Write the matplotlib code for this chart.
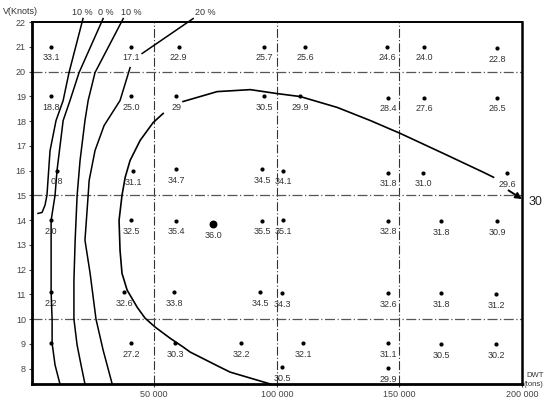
import matplotlib
matplotlib.use('Agg')
import matplotlib.pyplot as plt
import numpy as np

plt.rcParams['font.family'] = ['Liberation Sans', 'DejaVu Sans']

# grid points: DWT (tons), speed (knots), value label
pt_x = [8000, 40500, 60000, 95000, 111500, 145000, 160000, 190000,
        8000, 40500, 59000, 95000, 109600, 145500, 160000, 190000,
        10400, 41400, 59000, 94000, 102700, 145500, 159800, 194000,
        8000, 40600, 59000, 94000, 102700, 145500, 167000, 190000,
        8000, 37800, 58200, 93300, 102300, 145500, 167000, 189600,
        8000, 40600, 58600, 85500, 110800, 145500, 167000, 189600,
        102300, 145500]
pt_y = [21.0, 21.0, 21.0, 21.0, 21.0, 21.0, 21.0, 20.95,
        19.0, 19.0, 19.0, 19.0, 19.0, 18.95, 18.95, 18.95,
        16.0, 15.97, 16.05, 16.05, 16.0, 15.92, 15.92, 15.9,
        14.0, 14.0, 13.98, 13.98, 14.0, 13.98, 13.95, 13.95,
        11.09, 11.09, 11.09, 11.09, 11.05, 11.05, 11.05, 11.02,
        9.03, 9.03, 9.03, 9.03, 9.03, 9.03, 9.0, 9.0,
        8.06, 8.03]
pt_lbl = ['33.1', '17.1', '22.9', '25.7', '25.6', '24.6', '24.0', '22.8',
          '18.8', '25.0', '29', '30.5', '29.9', '28.4', '27.6', '26.5',
          '0.8', '31.1', '34.7', '34.5', '34.1', '31.8', '31.0', '29.6',
          '2.0', '32.5', '35.4', '35.5', '35.1', '32.8', '31.8', '30.9',
          '2.2', '32.6', '33.8', '34.5', '34.3', '32.6', '31.8', '31.2',
          '', '27.2', '30.3', '32.2', '32.1', '31.1', '30.5', '30.2',
          '30.5', '29.9']

# optimum point
opt_x, opt_y, opt_lbl = 74100, 13.83, '36.0'

# iso-lines (-10 %, 0 %, 10 %, 20 %)
c10n_x = [21000, 15300, 12900, 10000, 7550, 6300, 5500, 4300, 2650]
c10n_y = [22.14, 19.96, 18.83, 18.02, 16.8, 15.0, 14.6, 14.31, 14.27]
c0_x = [29200, 19400, 15700, 12900, 10400, 9600, 8000, 8000, 8000, 8400, 8400, 9600, 11600]
c0_y = [22.14, 19.96, 18.83, 18.02, 16.0, 15.0, 13.99, 12.38, 11.09, 10.0, 9.03, 8.15, 7.38]
c10_x = [37400, 25900, 23100, 21800, 19800, 18600, 17800, 17300, 17300, 18600, 20200, 21800]
c10_y = [22.14, 19.96, 18.83, 18.02, 16.41, 15.0, 13.19, 11.57, 10.0, 8.95, 8.15, 7.38]
c20_x = [65900, 45100, np.nan, 40200, 36100, 29600, 25900, 23500, 23100, 21800, 23900, 26300, 29200, 32900]
c20_y = [22.14, 20.73, np.nan, 20.16, 18.83, 17.82, 16.81, 15.6, 15.0, 13.19, 11.85, 10.0, 8.75, 7.38]

# 30 % curve
c30_x = [97400, 81000, 76900, 64700, 61900, 56500, 50400, 46300, 43100, 39000, 36900,
         36100, 35700, 36900, 38200, 40200, 44300, 49600, 53700, np.nan,
         61800, 75700, 89200, 100200, 109600, 124700, 138200, 150400, 168000,
         184300, 188400, np.nan, 194500]
c30_y = [7.38, 7.86, 8.06, 8.67, 8.87, 9.23, 9.68, 10.04, 10.48, 11.17, 11.85,
         12.78, 13.99, 15.0, 15.73, 16.41, 17.22, 17.94, 18.31, np.nan,
         18.79, 19.19, 19.27, 19.11, 18.99, 18.55, 18.02, 17.5, 16.69,
         15.93, 15.73, np.nan, 15.2]
c30_end = (200000, 14.85)

pct_lbl = ['10 %', '0 %', '10 %', '20 %']
pct_x = [20600, 30400, 40600, 70800]

x_ticks = [50000, 100000, 150000, 200000]
x_tick_lbl = ['50 000', '100 000', '150 000', '200 000']
y_ticks = list(range(8, 23))

fig = plt.figure(figsize=(5.45, 4.09), dpi=100)
ax = fig.add_axes([0.0578, 0.0611, 0.900, 0.885])
ax.set_xlim(0, 200000)
ax.set_ylim(7.38, 22)

# dash-dot reference grid
for gx in [50000, 100000, 150000]:
    ax.axvline(gx, color='#333333', lw=0.8, ls=(0, (8, 2, 1, 2)), zorder=1)
for gy in [20, 15, 10]:
    ax.axhline(gy, color='#555555', lw=0.9, ls=(0, (8, 2, 1, 2)), zorder=1)

kw = dict(color='black', lw=1.1, clip_on=False, zorder=3)
ax.plot(c10n_x, c10n_y, **kw)
ax.plot(c0_x, c0_y, **kw)
ax.plot(c10_x, c10_y, **kw)
ax.plot(c20_x, c20_y, **kw)
ax.plot(c30_x, c30_y, color='black', lw=1.2, zorder=3)
ax.annotate('', xy=c30_end, xytext=(c30_x[-1], c30_y[-1]),
            arrowprops=dict(arrowstyle='-|>', color='black', lw=1.4,
                            mutation_scale=9, shrinkA=0, shrinkB=0),
            annotation_clip=False, zorder=4)
ax.text(c30_end[0] + 2500, c30_end[1] - 0.1, '30', fontsize=9,
        ha='left', va='center', color='#222222', clip_on=False)

ax.scatter(pt_x, pt_y, s=4, color='black', zorder=4)
for x, y, t in zip(pt_x, pt_y, pt_lbl):
    if t:
        ax.annotate(t, (x, y), xytext=(0, -8), textcoords='offset points',
                    ha='center', va='center', fontsize=6.5, color='#333333')
ax.scatter([opt_x], [opt_y], s=22, color='black', zorder=4)
ax.annotate(opt_lbl, (opt_x, opt_y), xytext=(0, -8), textcoords='offset points',
            ha='center', va='center', fontsize=6.5, color='#333333')

for t, x in zip(pct_lbl, pct_x):
    ax.text(x, 22.38, t, fontsize=6.5, ha='center', va='center',
            color='#333333', clip_on=False)

ax.set_xticks(x_ticks)
ax.set_xticklabels(x_tick_lbl)
ax.set_yticks(y_ticks)
ax.tick_params(axis='both', length=2, labelsize=6.5, colors='#444444', pad=2)
for s in ax.spines.values():
    s.set_color('black')
ax.spines['left'].set_linewidth(2.0)
ax.spines['bottom'].set_linewidth(2.0)
ax.spines['right'].set_linewidth(1.8)
ax.spines['top'].set_linewidth(1.4)

fig.text(0.006, 0.971, 'V(Knots)', fontsize=6.5, color='#333333', va='center')
fig.text(0.997, 0.083, 'DWT', fontsize=5.5, color='#333333', ha='right', va='center')
fig.text(0.997, 0.06, '(tons)', fontsize=5.5, color='#333333', ha='right', va='center')

fig.savefig('out.png', dpi=100, facecolor='white')
